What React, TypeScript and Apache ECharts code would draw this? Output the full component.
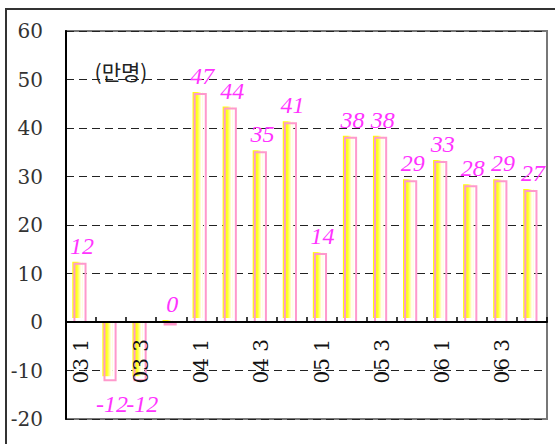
import React, { useEffect, useRef } from "react";
import * as echarts from "echarts";

const categories = [
  "03 1", "03 2", "03 3", "03 4",
  "04 1", "04 2", "04 3", "04 4",
  "05 1", "05 2", "05 3", "05 4",
  "06 1", "06 2", "06 3", "06 4",
];
const values = [12, -12, -12, 0, 47, 44, 35, 41, 14, 38, 38, 29, 33, 28, 29, 27];
const yTicks = { min: -20, max: 60, interval: 10 };
const unitLabel = "(만명)";

const GRID_TOP = 31;
const GRID_BOTTOM = 25;
const CHART_H = 444;

export default function App() {
  const ref = useRef<HTMLDivElement>(null);
  useEffect(() => {
    if (!ref.current) return;
    const chart = echarts.init(ref.current, null, { renderer: "svg" });
    const yellowGrad = new echarts.graphic.LinearGradient(0, 0, 1, 0, [
      { offset: 0, color: "#ffff00" },
      { offset: 0.45, color: "#ffff20" },
      { offset: 0.85, color: "#ffffff" },
      { offset: 1, color: "#ffffd0" },
    ]);
    const plotH = CHART_H - GRID_TOP - GRID_BOTTOM;
    const zeroOffset = ((0 - yTicks.min) / (yTicks.max - yTicks.min)) * plotH;
    chart.setOption({
      animation: false,
      backgroundColor: "#ffffff",
      grid: {
        left: 66,
        right: 8,
        top: GRID_TOP,
        bottom: GRID_BOTTOM,
        show: true,
        borderColor: "#777777",
        borderWidth: 2,
        backgroundColor: "transparent",
        containLabel: false,
        outerBoundsMode: "none",
      },
      xAxis: {
        type: "category",
        data: categories,
        boundaryGap: true,
        position: "bottom",
        offset: -zeroOffset,
        z: 10,
        axisLine: { onZero: false, lineStyle: { color: "#000", width: 2 } },
        axisTick: {
          show: true,
          inside: true,
          length: 5,
          interval: 0,
          lineStyle: { color: "#000", width: 1.5 },
        },
        axisLabel: {
          interval: 1,
          rotate: 90,
          margin: 17,
          fontFamily: "DejaVu Serif",
          fontSize: 20,
          color: "#111",
          hideOverlap: false,
        },
        splitLine: { show: false },
      },
      yAxis: {
        type: "value",
        min: yTicks.min,
        max: yTicks.max,
        interval: yTicks.interval,
        axisLine: { show: true, lineStyle: { color: "#000", width: 2 } },
        axisTick: { show: false },
        axisLabel: {
          margin: 23,
          fontFamily: "DejaVu Serif",
          fontSize: 20,
          color: "#333",
        },
        splitLine: {
          show: true,
          lineStyle: { color: "#222", width: 1, type: [8, 5] },
        },
      },
      graphic: [
        {
          type: "rect",
          shape: { x: 6, y: 9, width: 700, height: 600 },
          style: { fill: "none", stroke: "#333", lineWidth: 2 },
          silent: true,
          z: 100,
        },
        {
          type: "text",
          x: 121,
          y: 71,
          style: {
            text: unitLabel,
            font: "21px Noto Sans CJK KR",
            fill: "#222",
            align: "center",
            verticalAlign: "middle",
            textAlign: "center",
            textVerticalAlign: "middle",
          },
          z: 100,
        },
      ],
      series: [
        {
          type: "custom",
          data: values.map((v, i) => [i, v]),
          encode: { x: 0, y: 1 },
          z: 3,
          renderItem: (params: any, api: any) => {
            const i = api.value(0);
            const v = api.value(1);
            const p = api.coord([i, v]);
            const z0 = api.coord([i, 0]);
            const band = api.size([1, 0])[0];
            const c = p[0];
            const pinkX = c - band * 0.22;
            const pinkW = band * 0.37;
            const yelX = c - band * 0.29;
            const yelW = band * 0.35;
            let pinkY: number, pinkH: number, yelY: number, yelH: number;
            if (v > 0) {
              pinkY = p[1];
              pinkH = z0[1] - p[1];
              yelY = p[1] - 2;
              yelH = z0[1] - 4 - yelY;
            } else if (v < 0) {
              pinkY = z0[1];
              pinkH = p[1] - z0[1];
              yelY = z0[1] - 1;
              yelH = p[1] - 4 - yelY;
            } else {
              pinkY = z0[1] + 1.5;
              pinkH = 1;
              yelY = z0[1] - 2;
              yelH = 2;
            }
            const labelStyle: any = {
              text: String(v),
              x: c + 1,
              y: v >= 0 ? Math.min(p[1], z0[1]) - 6 : p[1] + 12,
              fill: "#ff33ff",
              fontFamily: "Liberation Serif",
              fontStyle: "italic",
              fontSize: 24,
              align: "center",
              textAlign: "center",
              verticalAlign: v >= 0 ? "bottom" : "top",
              textVerticalAlign: v >= 0 ? "bottom" : "top",
            };
            return {
              type: "group",
              children: [
                {
                  type: "rect",
                  shape: { x: yelX, y: yelY, width: yelW, height: yelH },
                  style: { fill: yellowGrad },
                },
                {
                  type: "rect",
                  shape: { x: pinkX, y: pinkY, width: pinkW, height: pinkH },
                  style: { fill: "none", stroke: "#ff99cc", lineWidth: 2 },
                },
                { type: "text", style: labelStyle },
              ],
            };
          },
        },
      ],
    });
    return () => chart.dispose();
  }, []);
  return (
    <div
      ref={ref}
      style={{ position: "fixed", left: 0, top: 0, width: 555, height: 444, background: "#fff" }}
    />
  );
}
